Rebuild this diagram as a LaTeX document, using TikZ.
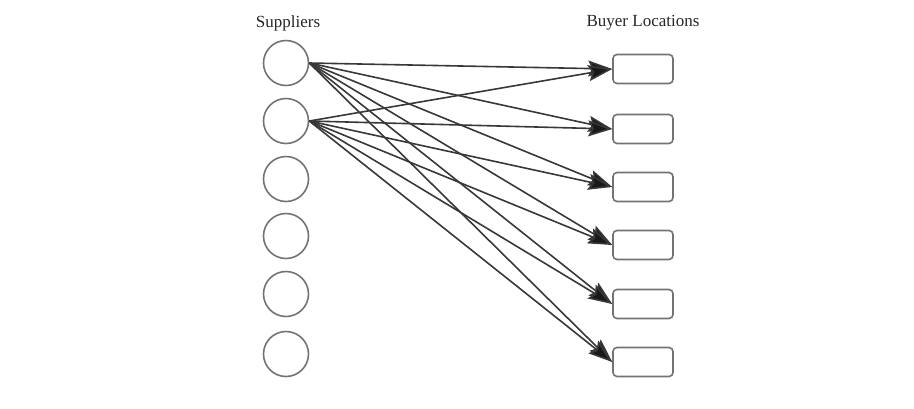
\documentclass[tikz,border=0pt]{standalone}
\usepackage{fontspec}
\setmainfont{Liberation Serif}
\usetikzlibrary{arrows.meta}
\begin{document}
\begin{tikzpicture}[
  supplier/.style={circle,draw=black!55,line width=1.6pt,minimum size=45pt,inner sep=0pt},
  buyer/.style={rectangle,rounded corners=4pt,draw=black!55,line width=1.6pt,minimum width=60pt,minimum height=29pt,inner sep=0pt},
  heading/.style={font=\fontsize{17}{19}\selectfont,text=black!85},
  link/.style={draw=black!78,line width=1.6pt,-{Stealth[length=24pt,width=16pt,inset=4pt,fill=black!90]}}]
\useasboundingbox (0pt,0pt) rectangle (914pt,-408pt);
% column headings
\node[heading] (hs) at (288pt,-23pt) {Suppliers};
\node[heading] (hb) at (643pt,-23pt) {Buyer Locations};
% suppliers
\foreach \i/\y in {1/63,2/121,3/179,4/236,5/294,6/354}
  \node[supplier] (s\i) at (286pt,-\y pt) {};
% buyer locations
\foreach \i/\y in {1/69,2/129,3/187,4/245,5/304,6/362}
  \node[buyer] (b\i) at (643pt,-\y pt) {};
% shipments from the first two suppliers to every buyer
\foreach \s in {1,2}
  \foreach \b in {1,...,6}
    \draw[link] (s\s.east) -- (b\b.west);
\end{tikzpicture}
\end{document}
